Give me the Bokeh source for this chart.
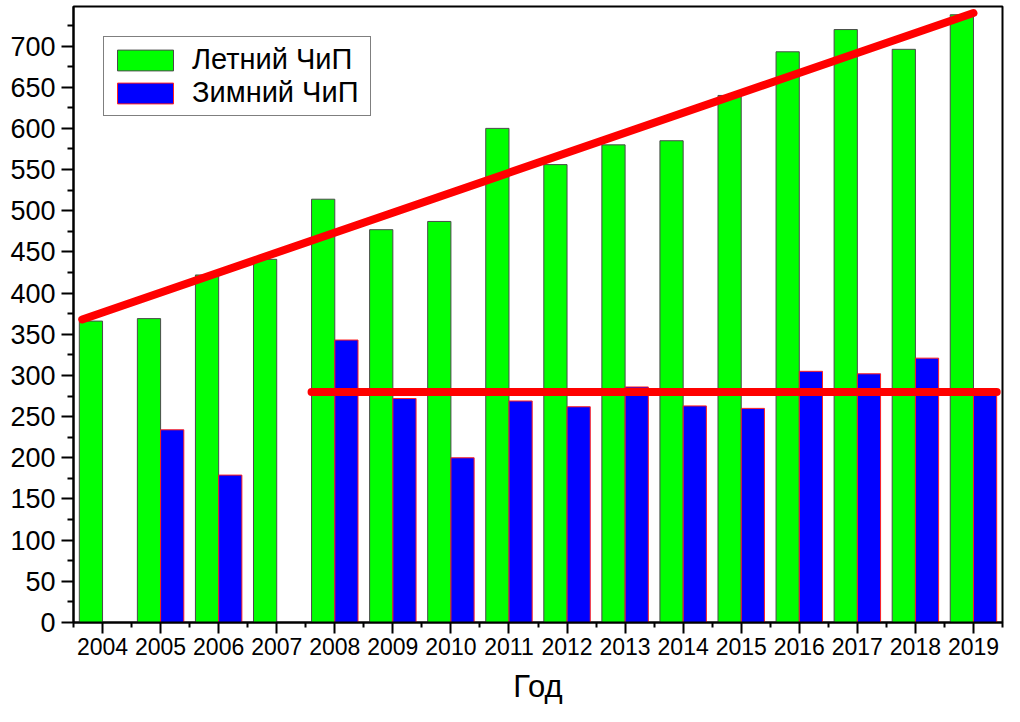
import numpy as np
from bokeh.plotting import figure
from bokeh.models import ColumnDataSource, FixedTicker, Legend, LegendItem, Range1d
from bokeh.embed import file_html
from bokeh.resources import INLINE

# ---- data ----
years = list(range(2004, 2020))
summer = [366, 369, 422, 441, 514, 477, 487, 600, 556, 580, 585, 640, 693, 720, 696, 738]
winter = [None, 234, 179, None, 343, 272, 200, 269, 262, 286, 263, 260, 305, 302, 321, 280]
trend_years = [2003.65, 2019.0]
trend_values = [368, 740]
mean_years = [2007.6, 2019.4]
mean_values = [280, 280]
y_ticks = list(range(0, 701, 50))
y_minor = list(range(25, 750, 50))
series_names = ["Летний ЧиП", "Зимний ЧиП"]
x_title = "Год"

FONT = "Liberation Sans"

p = figure(width=1004, height=706, output_backend="svg", toolbar_location=None,
           x_range=Range1d(2003.5, 2019.5), y_range=Range1d(0, 748),
           min_border_left=73, min_border_right=2, min_border_top=6, min_border_bottom=77)

bar_w = 0.4
s_src = ColumnDataSource(dict(x=[y - bar_w / 2 for y in years], top=summer))
w_years = [y for y, v in zip(years, winter) if v is not None]
w_vals = [v for v in winter if v is not None]
w_src = ColumnDataSource(dict(x=[y + bar_w / 2 for y in w_years], top=w_vals))

r_s = p.vbar(x="x", top="top", bottom=0, width=bar_w, source=s_src,
             fill_color="#00ff00", line_color="#4a4a4a", line_width=1)
r_w = p.vbar(x="x", top="top", bottom=0, width=bar_w, source=w_src,
             fill_color="#0000ff", line_color="#ff2020", line_width=1)

p.line(trend_years, trend_values, line_color="#ff0000", line_width=8, line_cap="round")
p.line(mean_years, mean_values, line_color="#ff0000", line_width=8, line_cap="round")

p.xgrid.visible = False
p.ygrid.visible = False
p.outline_line_color = "black"
p.outline_line_width = 2
p.background_fill_color = "white"

# x axis
p.xaxis.ticker = FixedTicker(ticks=years, minor_ticks=[y - 0.5 for y in years] + [years[-1] + 0.5])
p.xaxis.major_label_text_font = FONT
p.xaxis.major_label_text_font_size = "23px"
p.xaxis.major_label_text_color = "black"
p.xaxis.major_label_text_line_height = 1.0
p.xaxis.major_tick_out = 11
p.xaxis.major_tick_in = 0
p.xaxis.minor_tick_out = 5
p.xaxis.minor_tick_in = 0
p.xaxis.major_label_standoff = 4
p.xaxis.axis_label = x_title
p.xaxis.axis_label_text_font = FONT
p.xaxis.axis_label_text_font_size = "31px"
p.xaxis.axis_label_text_font_style = "normal"
p.xaxis.axis_label_text_color = "black"
p.xaxis.axis_label_text_line_height = 1.0
p.xaxis.axis_label_standoff = 11

# y axis
p.yaxis.ticker = FixedTicker(ticks=y_ticks, minor_ticks=y_minor)
p.yaxis.major_label_text_font = FONT
p.yaxis.major_label_text_font_size = "27px"
p.yaxis.major_label_text_color = "black"
p.yaxis.major_tick_out = 12
p.yaxis.major_tick_in = 0
p.yaxis.minor_tick_out = 6
p.yaxis.minor_tick_in = 0
p.yaxis.major_label_standoff = 6

for ax in (p.xaxis, p.yaxis):
    ax.axis_line_width = 2
    ax.axis_line_color = "black"
    ax.major_tick_line_width = 2
    ax.minor_tick_line_width = 2
    ax.major_tick_line_color = "black"
    ax.minor_tick_line_color = "black"

legend = Legend(items=[LegendItem(label=series_names[0], renderers=[r_s]),
                       LegendItem(label=series_names[1], renderers=[r_w])],
                location="top_left")
legend.margin = 30
legend.padding = 6
legend.spacing = 0
legend.glyph_width = 70
legend.glyph_height = 26
legend.label_standoff = 12
legend.label_width = 172
legend.label_text_font = FONT
legend.label_text_font_size = "29px"
legend.label_text_color = "black"
legend.label_text_line_height = 0.8
legend.border_line_color = "black"
legend.border_line_width = 1
legend.background_fill_alpha = 1.0
p.add_layout(legend)

open("out.html", "w").write(file_html(p, INLINE))
